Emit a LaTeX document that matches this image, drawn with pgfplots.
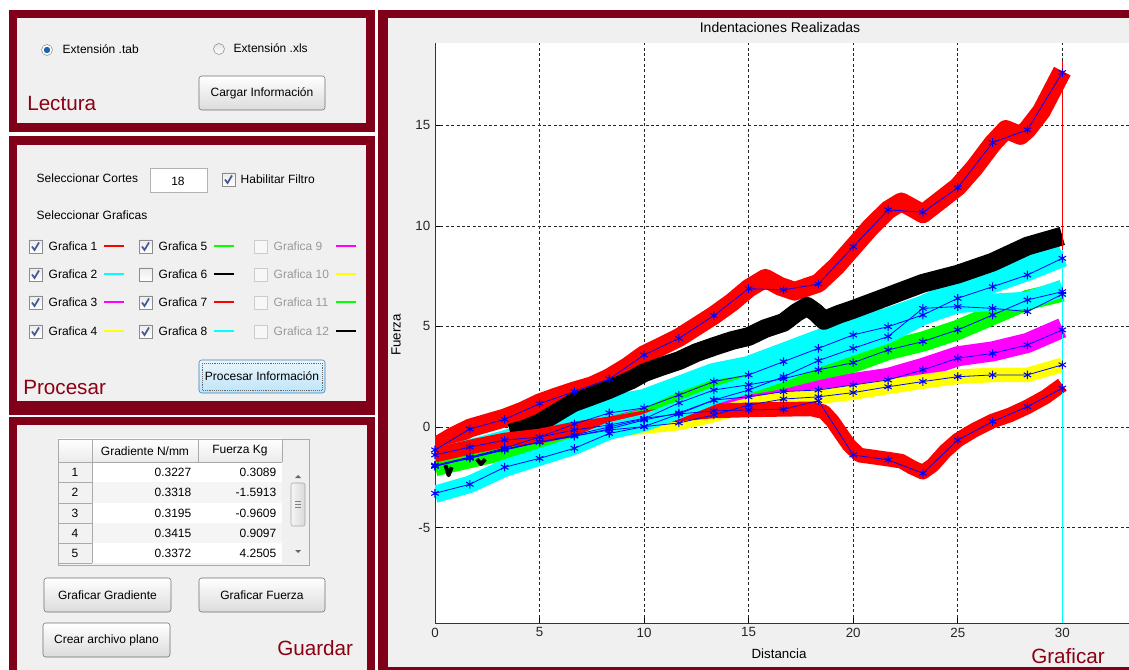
\documentclass[border=0pt]{standalone}
\usepackage{fontspec}
\setmainfont{Liberation Sans}
\usepackage{pgfplots}
\pgfplotsset{compat=1.18}
\definecolor{frame}{RGB}{128,0,26}
\definecolor{panel}{RGB}{240,240,240}
\definecolor{mtext}{RGB}{140,0,20}
\definecolor{mred}{RGB}{255,0,0}
\definecolor{mcyan}{RGB}{0,255,255}
\definecolor{mmag}{RGB}{255,0,255}
\definecolor{myel}{RGB}{255,255,0}
\definecolor{mgreen}{RGB}{0,255,0}
\definecolor{mblue}{RGB}{0,0,255}
\definecolor{bdr}{RGB}{112,112,112}
\definecolor{chk}{RGB}{70,90,150}
\definecolor{cell}{RGB}{170,170,170}
\definecolor{radio}{RGB}{30,100,170}
\definecolor{pbord}{RGB}{60,127,177}
\definecolor{ptop}{RGB}{234,246,253}
\definecolor{pbot}{RGB}{190,228,248}
\newcommand{\guifont}{\fontsize{9}{11}\selectfont}
\newcommand{\bigfont}{\fontsize{15.5}{18}\selectfont}
\newcommand{\btn}[5]{%
  \draw[rounded corners=2pt, draw=bdr, top color=white, bottom color=black!14] (#1,#2) rectangle (#3,#4);
  \node[font=\guifont] at ({(#1+#3)/2},{(#2+#4)/2}) {#5};}
\newcommand{\cbox}[3]{% x, y(top), checked(1/0)
  \begin{scope}[shift={(#1,#2)}]
  \draw[draw=black!45, top color=black!8, bottom color=white] (0,0) rectangle (13,13);
  \ifnum#3=1 \draw[chk, line width=1.3pt] (3,6.5) -- (5.5,10) -- (10,2.5);\fi
  \end{scope}}
\newcommand{\dbox}[2]{%
  \draw[draw=black!20, fill=black!3] (#1,#2) rectangle ++(13,13);}
\begin{document}
\begin{tikzpicture}[x=0.75pt,y=-0.75pt]
\useasboundingbox (0,0) rectangle (1129,670);
\fill[white] (0,0) rectangle (1129,670);
% ---------- panels
\fill[frame] (9,10) rectangle (375,132);
\fill[panel] (17,18) rectangle (366,123);
\fill[frame] (9,136) rectangle (375,415);
\fill[panel] (17,145) rectangle (366,401);
\fill[frame] (9,417) rectangle (375,672);
\fill[panel] (17,425) rectangle (367,672);
\fill[frame] (378,10) rectangle (1129,670);
\fill[panel] (388,18) rectangle (1129,667);
% ---------- Lectura
\draw[black!45, fill=white] (47,50) circle (5.5);
\fill[radio] (47,50) circle (3.2);
\node[anchor=west, font=\guifont] at (58,49) {Extensión .tab};
\draw[black!45, top color=black!10, bottom color=white] (219,49) circle (5.5);
\node[anchor=west, font=\guifont] at (229,48) {Extensión .xls};
\btn{199}{76}{325}{110}{Cargar Información}
\node[anchor=west, font=\bigfont, text=mtext, inner sep=0pt] at (27,103) {Lectura};
% ---------- Procesar
\node[anchor=west, font=\guifont] at (32,178) {Seleccionar Cortes};
\draw[draw=black!30, fill=white] (150,168) rectangle (207,192);
\node[font=\guifont] at (178,181) {18};
\cbox{222}{173}{1}
\node[anchor=west, font=\guifont] at (236,179) {Habilitar Filtro};
\node[anchor=west, font=\guifont] at (32,215) {Seleccionar Graficas};
\cbox{29}{240}{1}\node[anchor=west,font=\guifont] at (44,246) {Grafica 1};\draw[mred,line width=0.9pt] (104,246)--(124,246);
\cbox{29}{268}{1}\node[anchor=west,font=\guifont] at (44,274) {Grafica 2};\draw[mcyan,line width=0.9pt] (104,274)--(124,274);
\cbox{29}{296}{1}\node[anchor=west,font=\guifont] at (44,302) {Grafica 3};\draw[mmag,line width=0.9pt] (104,302)--(124,302);
\cbox{29}{325}{1}\node[anchor=west,font=\guifont] at (44,331) {Grafica 4};\draw[myel,line width=0.9pt] (104,331)--(124,331);
\cbox{139}{240}{1}\node[anchor=west,font=\guifont] at (154,246) {Grafica 5};\draw[mgreen,line width=0.9pt] (214,246)--(234,246);
\cbox{139}{268}{0}\node[anchor=west,font=\guifont] at (154,274) {Grafica 6};\draw[black,line width=0.9pt] (214,274)--(234,274);
\cbox{139}{296}{1}\node[anchor=west,font=\guifont] at (154,302) {Grafica 7};\draw[mred,line width=0.9pt] (214,302)--(234,302);
\cbox{139}{325}{1}\node[anchor=west,font=\guifont] at (154,331) {Grafica 8};\draw[mcyan,line width=0.9pt] (214,331)--(234,331);
\dbox{254}{240}\node[anchor=west,font=\guifont,text=black!40] at (269,246) {Grafica 9};\draw[mmag,line width=0.9pt] (336,246)--(356,246);
\dbox{254}{268}\node[anchor=west,font=\guifont,text=black!40] at (269,274) {Grafica 10};\draw[myel,line width=0.9pt] (336,274)--(356,274);
\dbox{254}{296}\node[anchor=west,font=\guifont,text=black!40] at (269,302) {Grafica 11};\draw[mgreen,line width=0.9pt] (336,302)--(356,302);
\dbox{254}{325}\node[anchor=west,font=\guifont,text=black!40] at (269,331) {Grafica 12};\draw[black,line width=0.9pt] (336,331)--(356,331);
\draw[rounded corners=2pt, draw=pbord, top color=ptop, bottom color=pbot] (199,360) rectangle (325,393);
\draw[black!60, densely dotted] (202,363) rectangle (322,390);
\node[font=\guifont] at (262,376) {Procesar Información};
\node[anchor=west, font=\bigfont, text=mtext, inner sep=0pt] at (23,387) {Procesar};
% ---------- Guardar (table)
\fill[white] (58,439) rectangle (282,563);
\fill[black!4] (92,482) rectangle (282,503);
\fill[black!4] (92,523) rectangle (282,543);
\fill[top color=white, bottom color=black!8] (58,439) rectangle (282,462);
\fill[black!5] (58,462) rectangle (92,565);
\fill[panel] (282,439) rectangle (309,565);
\draw[cell] (58,439) rectangle (309,565);
\draw[cell] (58,462) -- (282,462);
\draw[cell] (92,439) -- (92,563);
\draw[cell] (198,439) -- (198,462);
\draw[cell] (282,439) -- (282,462);
\foreach \yy in {482,503,523,543,563} {\draw[cell] (58,\yy) -- (92,\yy);}
\node[font=\guifont] at (145,451) {Gradiente N/mm};
\node[font=\guifont] at (240,451) {Fuerza Kg};
\foreach \yy/\n/\a/\b in {472/1/0.3227/0.3089, 492/2/0.3318/-1.5913, 513/3/0.3195/-0.9609, 533/4/0.3415/0.9097, 553/5/0.3372/4.2505} {
  \node[font=\guifont] at (75,\yy) {\n};
  \node[font=\guifont, anchor=east] at (196,\yy) {\a};
  \node[font=\guifont, anchor=east] at (281,\yy) {\b};
}
\draw[rounded corners=1.5pt, draw=black!35, left color=black!4, right color=black!15] (291,483) rectangle (305,526);
\foreach \yy in {501,504,507} {\draw[black!50] (295,\yy) -- (301,\yy);}
\fill[black!60] (295,478) -- (301,478) -- (298,475) -- cycle;
\fill[black!60] (295,550) -- (301,550) -- (298,553) -- cycle;
\btn{44}{578}{171}{612}{Graficar Gradiente}
\btn{199}{578}{325}{612}{Graficar Fuerza}
\btn{43}{623}{170}{657}{Crear archivo plano}
\node[anchor=west, font=\bigfont, text=mtext, inner sep=0pt] at (277,648) {Guardar};
% ---------- Graficar labels
\node[font=\fontsize{10.5}{12}\selectfont] at (780,27) {Indentaciones Realizadas};
\node[font=\fontsize{10}{12}\selectfont, rotate=90] at (396,335) {Fuerza};
\node[font=\fontsize{10}{12}\selectfont] at (779,654) {Distancia};
\node[anchor=west, font=\bigfont, text=mtext, inner sep=0pt] at (1031,656) {Graficar};
% ---------- chart
\begin{axis}[
  at={(326.25pt,-467.25pt)}, anchor=south west,
  scale only axis, width=520.5pt, height=435pt,
  xmin=0, xmax=33.19, ymin=-9.75, ymax=19.1,
  axis x line*=bottom, axis y line*=left,
  axis line style={black!80, line width=0.75pt},
  axis background/.style={fill=white},
  xtick={0,5,...,30}, ytick={-5,0,5,10,15},
  tick align=inside, major tick length=3.5pt,
  tick style={black, line width=0.6pt},
  grid=major,
  major grid style={black!85, line width=0.6pt, dash pattern=on 2.25pt off 1.8pt},
  ticklabel style={font=\fontsize{10}{12}\selectfont, text=black!85},
  /pgf/number format/assume math mode=true,
  every axis plot/.append style={line join=round, line cap=butt},
]
% raw bands
\addplot[mred, line width=14pt] coordinates {(0,-1.0) (0.8,-0.5) (1.67,-0.05) (2.5,0.2) (3.33,0.45) (4.2,0.8) (5,1.2) (5.8,1.5) (6.67,1.8) (7.5,2.05) (8.33,2.45) (9.2,3.0) (10,3.6) (10.8,4.0) (11.67,4.45) (12.5,5.0) (13.33,5.55) (14.2,6.2) (15,6.9) (15.8,7.4) (16.5,7.0) (17.2,6.75) (18.33,7.15) (19.2,8.0) (20,8.95) (20.8,9.9) (21.67,10.8) (22.3,11.2) (23.0,10.8) (23.33,10.6) (24.2,11.3) (25,11.95) (25.8,12.9) (26.67,14.1) (27.3,14.8) (28,14.5) (28.33,14.8) (29.0,15.7) (29.6,16.9) (30,17.7)};
\addplot[mcyan, line width=19pt] coordinates {(0,-1.7) (1.67,-1.25) (3.33,-0.8) (5,-0.25) (6.67,0.4) (8.33,0.95) (10,1.25) (11.67,1.9) (13.33,2.55) (15,2.9) (16.67,3.55) (18.33,4.2) (20,4.85) (21.67,5.3) (23.33,5.9) (25,6.7) (26.67,7.3) (28.33,7.9) (30,8.6)};
\addplot[mmag, line width=15pt] coordinates {(0,-1.8) (1.67,-1.4) (3.33,-1.0) (5,-0.65) (6.67,-0.35) (8.33,0.0) (10,0.45) (11.67,0.8) (13.33,1.44) (15,1.6) (16.67,1.86) (18.33,1.94) (20,2.19) (21.67,2.44) (23.33,2.94) (25,3.52) (26.67,3.76) (28.33,4.18) (30,4.93)};
\addplot[myel, line width=11pt] coordinates {(0,-1.95) (1.67,-1.55) (3.33,-1.1) (5,-0.75) (6.67,-0.45) (8.33,-0.15) (10,0.02) (11.67,0.2) (13.33,0.6) (15,1.09) (16.67,1.39) (18.33,1.5) (20,1.71) (21.67,2.0) (23.33,2.26) (25,2.5) (26.67,2.59) (28.33,2.59) (30,3.09)};
\addplot[mgreen, line width=15pt] coordinates {(0,-1.95) (1.67,-1.55) (3.33,-1.15) (5,-0.75) (6.67,-0.4) (8.33,0.0) (10,0.4) (11.67,1.2) (13.33,1.84) (15,2.1) (16.67,2.4) (18.33,2.84) (20,3.2) (21.67,3.83) (23.33,4.25) (25,4.83) (26.67,5.57) (28.33,6.32) (30,6.73)};
\addplot[black, line width=14pt] coordinates {(3.6,-0.3) (4.3,-0.1) (5,0.2) (5.8,0.7) (6.6,1.2) (7.4,1.5) (8.3,1.85) (9.4,2.35) (10,2.7) (10.8,3.0) (11.67,3.3) (12.5,3.7) (13.33,4.0) (14.2,4.3) (15,4.5) (15.8,4.9) (16.67,5.2) (17.3,5.7) (17.8,6.0) (18.2,5.7) (18.6,5.3) (19.3,5.6) (20,5.85) (21.67,6.5) (23.33,7.15) (25,7.6) (26.67,8.2) (28.33,9.0) (30,9.5)};
\addplot[black, line width=3pt] coordinates {(0.5,-1.9) (0.65,-2.4) (0.8,-2.0)};
\addplot[black, line width=3pt] coordinates {(2.0,-1.6) (2.2,-1.85) (2.4,-1.6)};
\addplot[mred, line width=11pt] coordinates {(0,-1.4) (1.67,-1.0) (3.33,-0.65) (5,-0.45) (6.67,-0.1) (8.33,0.15) (10,0.45) (11.67,0.65) (13.33,0.8) (15,0.85) (16.67,0.88) (18.0,0.9) (18.6,0.75) (19.0,0.3) (19.4,-0.3) (19.8,-0.9) (20.3,-1.4) (21,-1.5) (21.67,-1.6) (22.3,-1.7) (22.8,-2.0) (23.33,-2.25) (23.8,-1.9) (24.4,-1.2) (25,-0.65) (25.8,-0.15) (26.67,0.3) (27.5,0.6) (28.33,1.0) (29.2,1.5) (30,2.1)};
\addplot[mcyan, line width=13pt] coordinates {(0,-3.35) (1.67,-2.85) (3.33,-2.05) (5,-1.5) (6.67,-0.95) (8.33,-0.2) (10,0.2) (11.67,0.85) (13.33,1.55) (15,2.1) (16.67,2.7) (18.33,3.4) (20,4.0) (21.67,4.6) (23.33,5.5) (25,6.1) (26.67,6.2) (28.33,6.3) (30,6.9)};
% end drops at x = 30
\addplot[mred, line width=0.9pt] coordinates {(30,18.2) (30,-9.75)};
\addplot[mcyan, line width=0.9pt] coordinates {(30,8.8) (30,-9.75)};
% fitted segments
\pgfplotsset{fitstyle/.style={mblue, line width=0.6pt, mark=asterisk, mark size=3.2pt, mark options={solid, line width=0.8pt}}}
\addplot[fitstyle] coordinates {(0,-1.14) (1.667,-0.1) (3.333,0.38) (5,1.16) (6.667,1.76) (8.333,2.39) (10,3.58) (11.667,4.41) (13.333,5.54) (15,6.88) (16.667,6.82) (18.333,7.11) (20,8.97) (21.667,10.8) (23.333,10.68) (25,11.9) (26.667,14.15) (28.333,14.78) (30,17.63)};
\addplot[fitstyle] coordinates {(0,-1.94) (1.667,-1.5) (3.333,-1.05) (5,-0.5) (6.667,0.15) (8.333,0.7) (10,0.95) (11.667,1.59) (13.333,2.26) (15,2.59) (16.667,3.25) (18.333,3.91) (20,4.58) (21.667,4.99) (23.333,5.57) (25,6.4) (26.667,6.98) (28.333,7.56) (30,8.39)};
\addplot[fitstyle] coordinates {(0,-1.9) (1.667,-1.5) (3.333,-1.1) (5,-0.75) (6.667,-0.45) (8.333,-0.1) (10,0.35) (11.667,0.7) (13.333,1.34) (15,1.5) (16.667,1.76) (18.333,1.84) (20,2.09) (21.667,2.34) (23.333,2.84) (25,3.42) (26.667,3.66) (28.333,4.08) (30,4.83)};
\addplot[fitstyle] coordinates {(0,-1.95) (1.667,-1.55) (3.333,-1.1) (5,-0.75) (6.667,-0.45) (8.333,-0.15) (10,0.02) (11.667,0.2) (13.333,0.6) (15,1.09) (16.667,1.39) (18.333,1.5) (20,1.71) (21.667,2.0) (23.333,2.26) (25,2.5) (26.667,2.59) (28.333,2.59) (30,3.09)};
\addplot[fitstyle] coordinates {(0,-1.95) (1.667,-1.55) (3.333,-1.15) (5,-0.75) (6.667,-0.4) (8.333,0.0) (10,0.4) (11.667,1.2) (13.333,1.84) (15,2.1) (16.667,2.4) (18.333,2.84) (20,3.2) (21.667,3.83) (23.333,4.25) (25,4.83) (26.667,5.57) (28.333,6.32) (30,6.73)};
\addplot[fitstyle] coordinates {(0,-1.39) (1.667,-1.0) (3.333,-0.65) (5,-0.5) (6.667,-0.15) (8.333,0.1) (10,0.43) (11.667,0.65) (13.333,0.8) (15,0.85) (16.667,0.88) (18.333,1.31) (20,-1.39) (21.667,-1.64) (23.333,-2.3) (25,-0.65) (26.667,0.27) (28.333,1.01) (30,1.93)};
\addplot[fitstyle] coordinates {(0,-3.3) (1.667,-2.85) (3.333,-2.0) (5,-1.56) (6.667,-1.06) (8.333,-0.32) (10,0.02) (11.667,0.65) (13.333,1.34) (15,1.84) (16.667,2.5) (18.333,3.3) (20,3.91) (21.667,4.5) (23.333,5.9) (25,5.99) (26.667,5.9) (28.333,5.74) (30,6.6)};
\end{axis}
\end{tikzpicture}
\end{document}
